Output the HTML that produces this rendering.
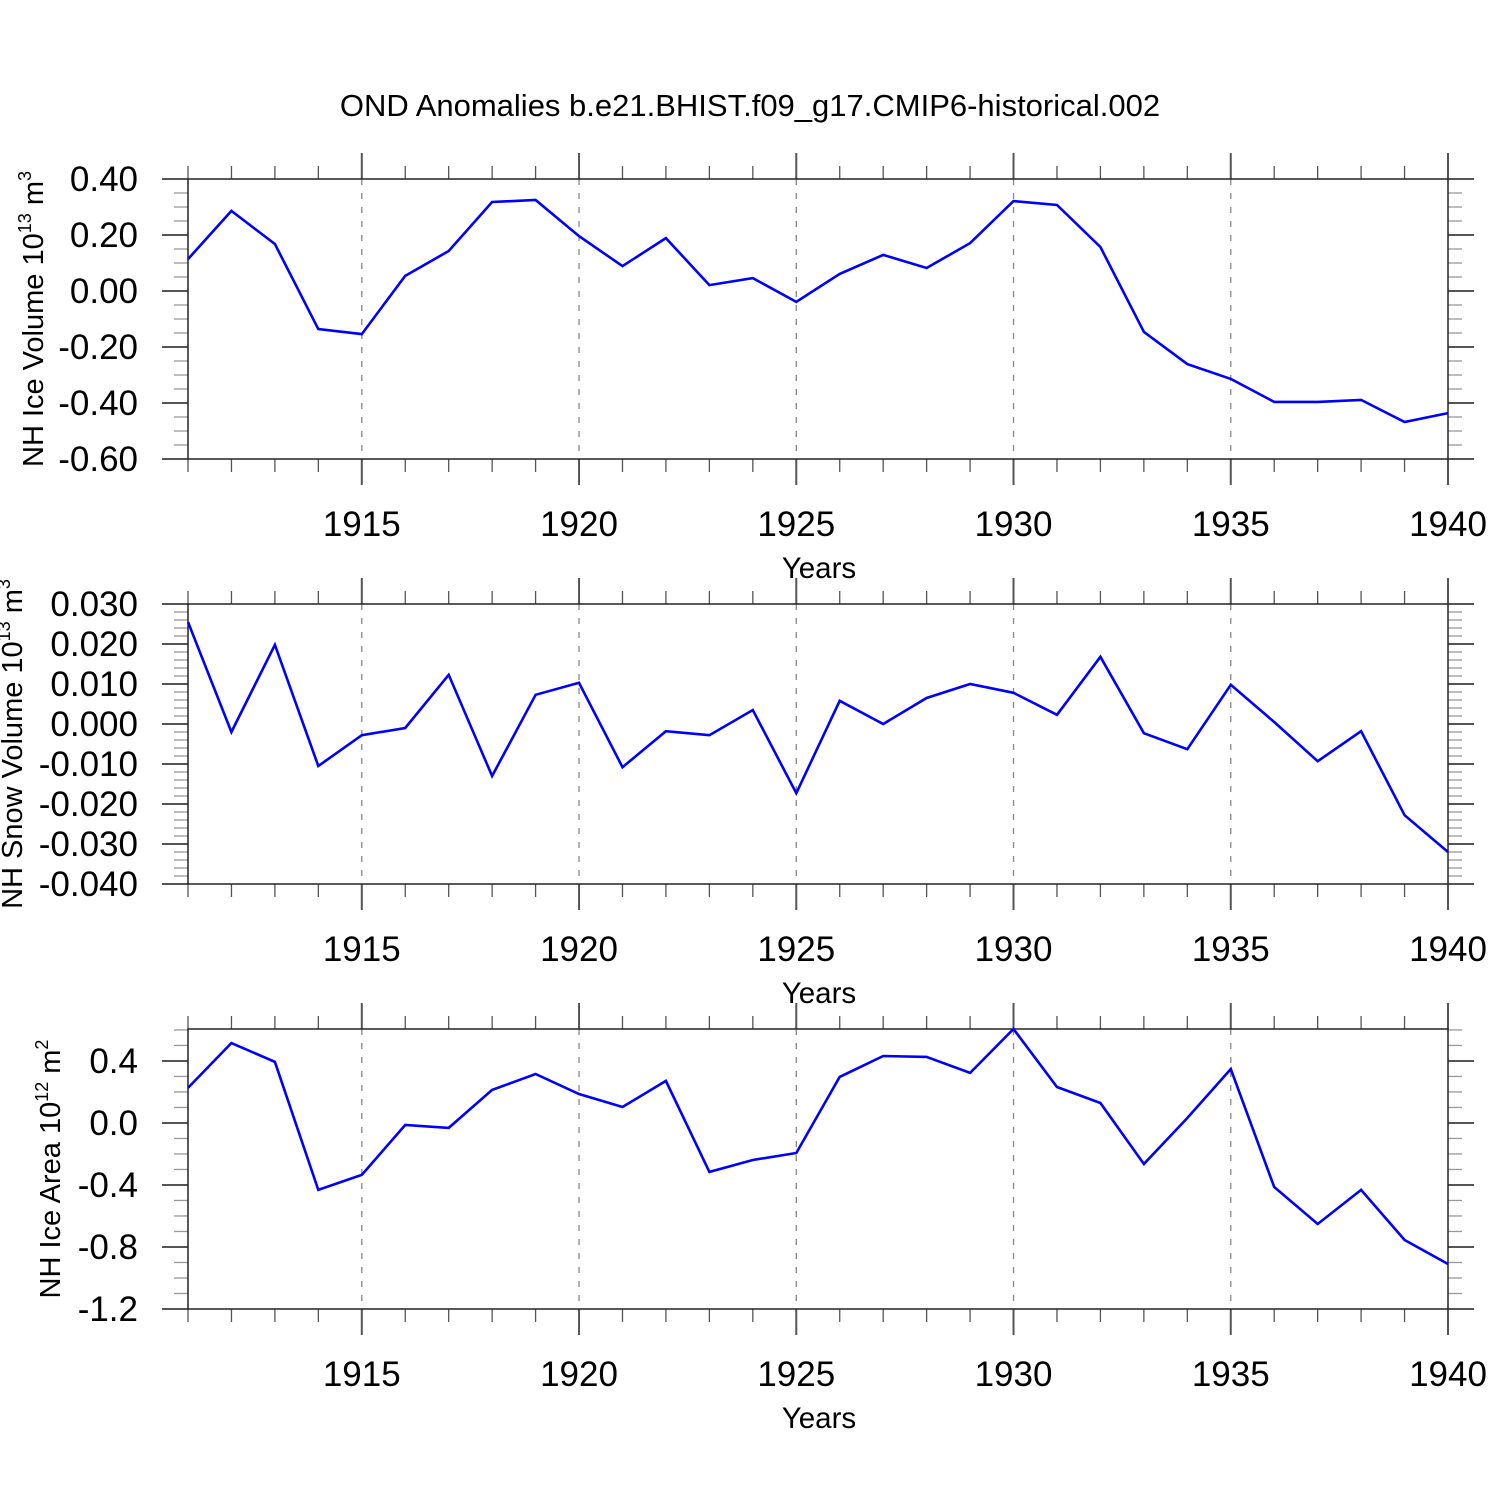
<!DOCTYPE html>
<html><head><meta charset="utf-8"><style>
html,body{margin:0;padding:0;background:#fff}
svg{display:block;font-family:"Liberation Sans",sans-serif}
</style></head><body>
<svg id="chart" width="1500" height="1500" viewBox="0 0 1500 1500" xmlns="http://www.w3.org/2000/svg">
<text x="750" y="116" font-size="31" text-anchor="middle">OND Anomalies b.e21.BHIST.f09_g17.CMIP6-historical.002</text>
</svg>
<script>
const years = [1911,1912,1913,1914,1915,1916,1917,1918,1919,1920,1921,1922,1923,1924,1925,1926,1927,1928,1929,1930,1931,1932,1933,1934,1935,1936,1937,1938,1939,1940];
const iceVolume = [0.114,0.286,0.168,-0.136,-0.154,0.054,0.143,0.318,0.325,0.196,0.089,0.189,0.021,0.046,-0.039,0.061,0.129,0.082,0.171,0.321,0.307,0.157,-0.146,-0.261,-0.314,-0.396,-0.396,-0.389,-0.468,-0.436];
const snowVolume = [0.0255,-0.002,0.0198,-0.0105,-0.0028,-0.001,0.0123,-0.013,0.0073,0.0103,-0.0108,-0.0018,-0.0028,0.0035,-0.0173,0.0058,0.0,0.0065,0.010,0.0078,0.0023,0.0168,-0.0023,-0.0063,0.0098,0.0005,-0.0093,-0.0018,-0.0228,-0.032];
const iceArea = [0.226,0.516,0.394,-0.432,-0.335,-0.013,-0.032,0.213,0.316,0.187,0.103,0.271,-0.316,-0.239,-0.194,0.297,0.432,0.426,0.323,0.606,0.232,0.129,-0.265,0.032,0.348,-0.413,-0.652,-0.432,-0.755,-0.910];
const xTickLabels = [1915,1920,1925,1930,1935,1940];
const iceVolTicks = [0.4,0.2,0,-0.2,-0.4,-0.6];
const snowTicks = [0.03,0.02,0.01,0,-0.01,-0.02,-0.03,-0.04];
const areaTicks = [0.4,0,-0.4,-0.8,-1.2];

const NS="http://www.w3.org/2000/svg";
const svg=document.getElementById('chart');
function mk(tag,attrs,parent){const e=document.createElementNS(NS,tag);for(const k in attrs)e.setAttribute(k,attrs[k]);(parent||svg).appendChild(e);return e;}
const X0=188,X1=1448,YR0=1911,YR1=1940;
const xs=v=>X0+(v-YR0)*(X1-X0)/(YR1-YR0);

function panel(id,top,ymin,ymax,ticks,dec,minorStep,data,label,labelX,sup,unit){
  const bot=top+280;
  const ys=v=>bot-(v-ymin)*280/(ymax-ymin);
  const g=mk('g',{});
  
  
  for(let y=1915;y<1940;y+=5){
    const l=mk('line',{x1:xs(y),x2:xs(y),y1:top,y2:bot,stroke:'#888','stroke-width':1.3,'stroke-dasharray':'6,8'},g);
    
    
  }
  for(let y=YR0;y<=YR1;y++){
    const major=(y%5===0);
    const len=major?26:13;
    mk('line',{x1:xs(y),x2:xs(y),y1:top-len,y2:top,stroke:'#555','stroke-width':major?2:1.3},g);
    mk('line',{x1:xs(y),x2:xs(y),y1:bot,y2:bot+len,stroke:'#555','stroke-width':major?2:1.3},g);
  }
  const lo=Math.min(...ticks);
  for(let v=lo;v<=ymax+1e-9;v+=minorStep){
    const yy=ys(v);
    mk('line',{x1:X0-14,x2:X0,y1:yy,y2:yy,stroke:'#999','stroke-width':1.3},g);
    mk('line',{x1:X1,x2:X1+14,y1:yy,y2:yy,stroke:'#999','stroke-width':1.3},g);
  }
  ticks.forEach(v=>{
    const yy=ys(v);
    mk('line',{x1:X0-26,x2:X0,y1:yy,y2:yy,stroke:'#555','stroke-width':2},g);
    mk('line',{x1:X1,x2:X1+26,y1:yy,y2:yy,stroke:'#555','stroke-width':2},g);
    const t=mk('text',{x:X0-50,y:yy+12,'font-size':35,'text-anchor':'end'},g);
    t.textContent=v.toFixed(dec);
    
    
  });
  const r=mk('rect',{x:X0,y:top,width:X1-X0,height:280,fill:'none',stroke:'#222','stroke-width':1.5},g);
  
  
  xTickLabels.forEach(y=>{
    const t=mk('text',{x:xs(y),y:bot+77,'font-size':35,'text-anchor':'middle'},g);
    t.textContent=y;
    
    
  });
  const xt=mk('text',{x:819,y:bot+119,'font-size':29.5,'text-anchor':'middle'},g);
  xt.textContent='Years';
  
  
  const cy=top+140;
  const yt=mk('text',{x:labelX,y:cy,'font-size':29,'text-anchor':'middle',transform:`rotate(-90 ${labelX} ${cy})`},g);
  
  
  yt.appendChild(document.createTextNode(label+' 10'));
  const s1=mk('tspan',{'font-size':18,dy:-12},yt);s1.textContent=sup;
  const s2=mk('tspan',{dy:12},yt);s2.textContent=' m';
  const s3=mk('tspan',{'font-size':18,dy:-12},yt);s3.textContent=unit;
  const pts=data.map((v,i)=>xs(years[i]).toFixed(1)+','+ys(v).toFixed(1)).join(' ');
  const pl=mk('polyline',{points:pts,fill:'none',stroke:'#0000ff','stroke-width':2.6,'stroke-linejoin':'miter'},g);
  
  
}
panel('ice-volume',179,-0.6,0.4,iceVolTicks,2,0.05,iceVolume,'NH Ice Volume',43,'13','3');
panel('snow-volume',604,-0.04,0.03,snowTicks,3,0.002,snowVolume,'NH Snow Volume',22,'13','3');
panel('ice-area',1029,-1.2,0.606,areaTicks,1,0.1,iceArea,'NH Ice Area',60,'12','2');
</script>
</body></html>
